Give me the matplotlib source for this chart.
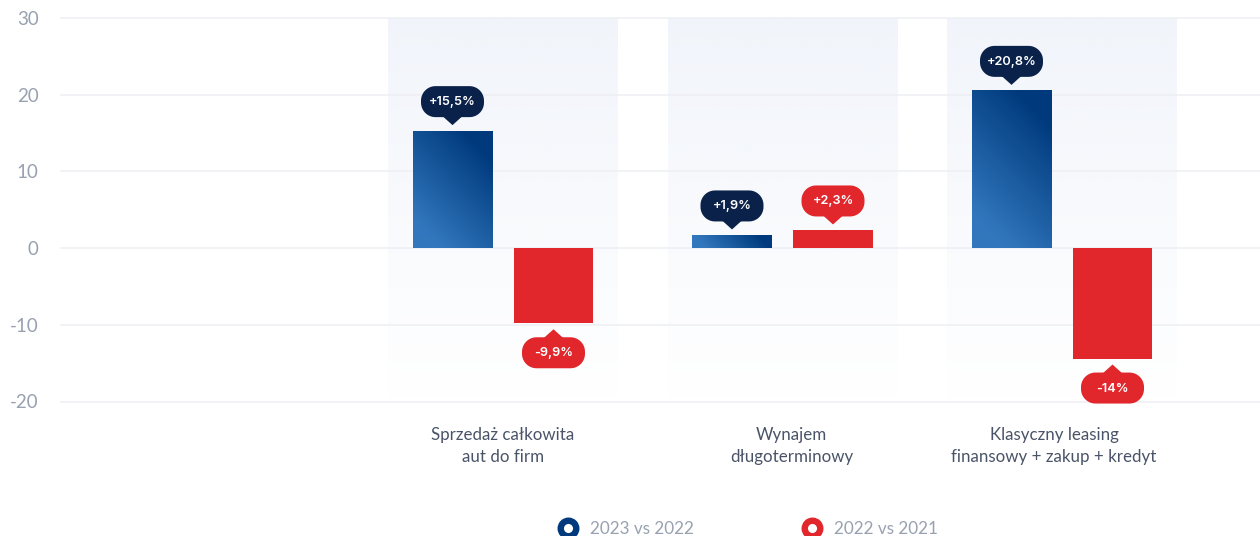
import numpy as np
import matplotlib
matplotlib.use("Agg")
import matplotlib.pyplot as plt
from matplotlib.colors import LinearSegmentedColormap, to_rgb
from matplotlib.lines import Line2D
from matplotlib.patches import PathPatch
from matplotlib.path import Path

plt.rcParams['font.family'] = ['Lato', 'DejaVu Sans']

# ---- data ----
categories = ["", "Sprzedaż całkowita\naut do firm", "Wynajem\ndługoterminowy",
              "Klasyczny leasing\nfinansowy + zakup + kredyt"]
series_names = ["2023 vs 2022", "2022 vs 2021"]
values_2023 = [15.25, 1.65, 20.5]
values_2022 = [-9.8, 2.3, -14.4]
labels_2023 = ["+15,5%", "+1,9%", "+20,8%"]
labels_2022 = ["-9,9%", "+2,3%", "-14%"]
yticks = [-20, -10, 0, 10, 20, 30]

NAVY, RED = "#003a7d", "#e1272c"
BUB_NAVY = "#0a2149"
W, H = 1260, 536
fig = plt.figure(figsize=(W / 100, H / 100), dpi=100)
fig.patch.set_facecolor("white")
y_top, y_bot = 18.0, 401.5
ax = fig.add_axes([61 / W, 1 - y_bot / H, (W - 61) / W, (y_bot - y_top) / H])
BAND = 279.5
xlim = (-(503 - 61) / BAND + 1, (1260 - 503) / BAND + 1)
ylim = (-20, 30)
PX_Y = (y_bot - y_top) / 50

# panels
cat_pos = [1, 2, 3]
panel = np.zeros((256, 1, 4))
panel[..., :3] = to_rgb("#e9eef8")
panel[..., 3] = np.linspace(0.62, 0.0, 256)[:, None]
for x in cat_pos:
    ax.imshow(panel, extent=(x - 115 / BAND, x + 115 / BAND, ylim[0], ylim[1]),
              aspect="auto", zorder=1, origin="upper", interpolation="bilinear")

# grid
for t in yticks:
    ax.axhline(t, color="#edeff4", lw=1.1, zorder=2, clip_on=False)

# bars
grad = LinearSegmentedColormap.from_list(
    "b", [(0, "#3277bd"), (0.15, "#3277bd"), (0.85, "#003a7d"), (1, "#003a7d")])
BW = 79.5 / BAND
OFF = 50.5 / BAND


def gradient_bar(xc, v):
    h = max(int(abs(v) * PX_Y), 2)
    w = 80
    yy, xx = np.mgrid[0:h, 0:w]
    t = ((xx - w / 2) + (h / 2 - yy)) / (w + h) + 0.5
    ax.imshow(grad(t), extent=(xc - BW / 2, xc + BW / 2, 0, v), origin="upper",
              aspect="auto", zorder=3, interpolation="bilinear")


def pill(cx, cy, w, h):
    """Closed outline of a fully rounded bubble body, centred on cx, cy."""
    r = h / 2 - 1
    pts = []
    corners = [(cx + w / 2 - r, cy + h / 2 - r, 0), (cx - w / 2 + r, cy + h / 2 - r, 90),
               (cx - w / 2 + r, cy - h / 2 + r, 180), (cx + w / 2 - r, cy - h / 2 + r, 270)]
    for ox, oy, a0 in corners:
        for a in np.radians(np.linspace(a0, a0 + 90, 16)):
            pts.append((ox + r * np.cos(a), oy + r * np.sin(a)))
    pts.append(pts[0])
    return Path(pts, closed=True)


def bubble(xc, v, text, color):
    s = 1 if v >= 0 else -1
    ax_x, ax_y = ax.transData.transform((xc, v))
    tip = ax_y + s * 6
    base = tip + s * 8
    far = base + s * 31
    cy = (base + far) / 2
    fig.add_artist(PathPatch(pill(ax_x, cy, 63, 31), fc=color, ec="none",
                             transform=None, zorder=6, clip_on=False))
    tri = Path([(ax_x - 10, base + s * 1), (ax_x, tip), (ax_x + 10, base + s * 1),
                (ax_x - 10, base + s * 1)], closed=True)
    fig.add_artist(PathPatch(tri, fc=color, ec="none", transform=None, zorder=6, clip_on=False))
    fig.text(ax_x / W, (cy - 0.5) / H, text, color="white", ha="center", va="center",
             fontsize=9.2, fontweight="semibold", family=["Inter", "DejaVu Sans"], zorder=7)


ax.set_xlim(*xlim)
ax.set_ylim(*ylim)
fig.canvas.draw()

for x, v1, v2, l1, l2 in zip(cat_pos, values_2023, values_2022, labels_2023, labels_2022):
    gradient_bar(x - OFF, v1)
    ax.bar(x + OFF, v2, width=BW, color=RED, zorder=3)
    bubble(x - OFF, v1, l1, BUB_NAVY)
    bubble(x + OFF, v2, l2, RED)

ax.set_xlim(*xlim)
ax.set_ylim(*ylim)
for sp in ax.spines.values():
    sp.set_visible(False)
ax.patch.set_alpha(0)
ax.set_yticks(yticks)
ax.set_yticklabels([str(t) for t in yticks], fontsize=13.5, color="#98a1b0")
ax.tick_params(axis="y", length=0, pad=16)
# the reference nudges its last two category labels off the band centre
ax.set_xticks([0, 1, 2 + 9 / BAND, 3 - 8 / BAND])
ax.set_xticklabels(categories, fontsize=12.2, color="#4a5468", linespacing=1.45)
ax.tick_params(axis="x", length=0, pad=18.2)

handles = [Line2D([], [], ls="none", marker="o", ms=11.2, mfc="white", mec=c, mew=4.6)
           for c in (NAVY, RED)]
fig.legend(handles, series_names, loc="center", bbox_to_anchor=(748 / W, 1 - 529 / H),
           ncol=2, frameon=False, fontsize=12.3, labelcolor="#98a1b0",
           columnspacing=6.35, handletextpad=0.68, handlelength=1.2, borderpad=0)

fig.savefig("out.png", dpi=100)
